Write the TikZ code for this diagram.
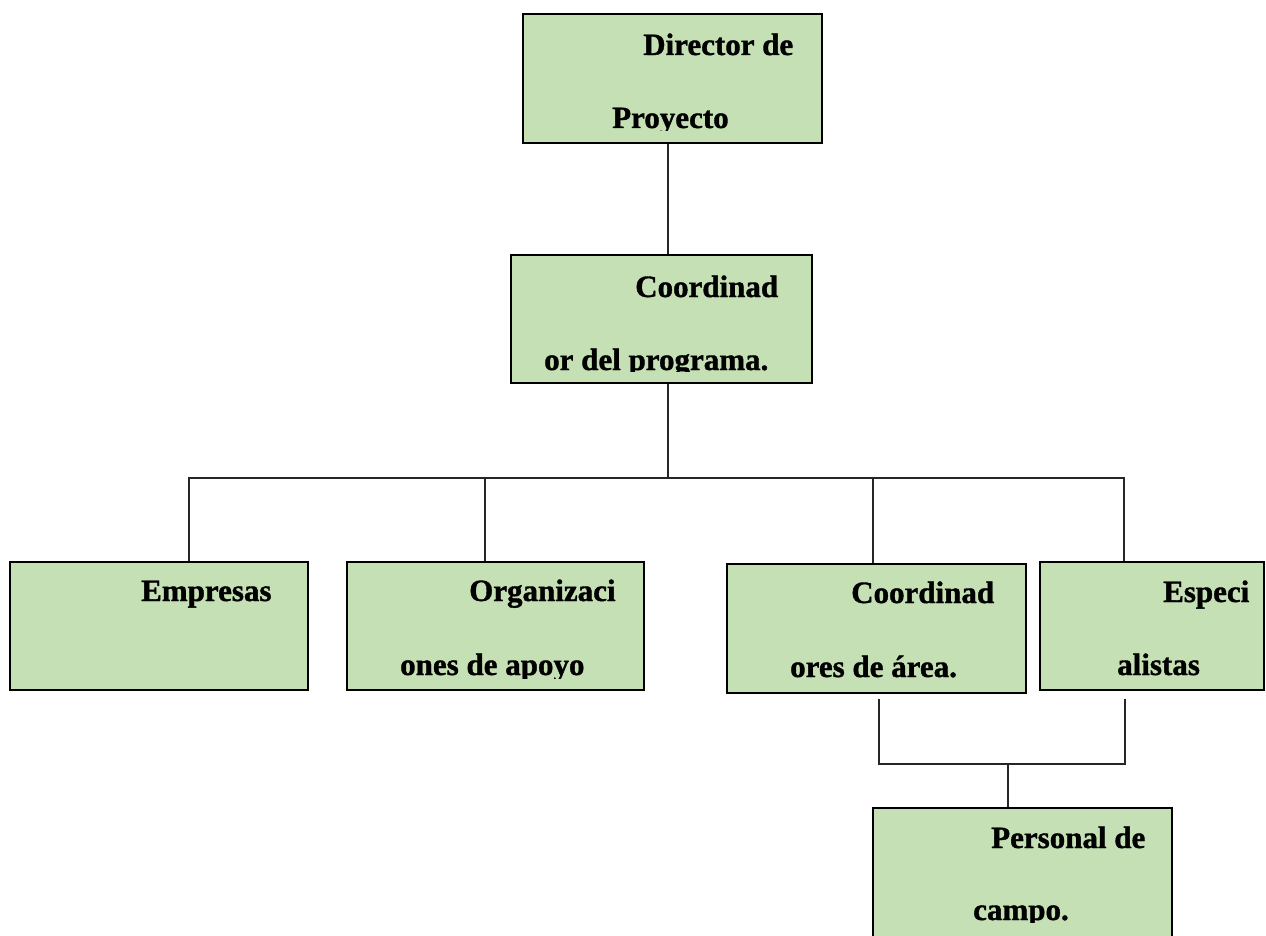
\documentclass[tikz,border=0pt]{standalone}
\usepackage{fontspec}
\setmainfont{Liberation Serif}[BoldFeatures={FakeBold=1.2}]
\definecolor{boxgreen}{HTML}{C5E0B4}

\begin{document}
\begin{tikzpicture}
    [x=1pt,y=-1pt,
     box/.style={draw, line width=2.8pt, fill=boxgreen, inner sep=0pt, minimum width=299, minimum height=128},
     txt/.style={anchor=base west, inner sep=0pt, font=\fontsize{31}{37}\selectfont\bfseries},
     link/.style={line width=1.2pt, draw=black!85}]
  \useasboundingbox (0,0) rectangle (1266,936);

  % boxes
  \node[box, minimum height=129] (dir) at (672.5,78.5) {};
  \node[box, minimum width=301] (coord) at (661.5,319) {};
  \node[box, minimum width=298] (emp) at (159,626) {};
  \node[box, minimum width=297] (org) at (495.5,626) {};
  \node[box, minimum height=129] (area) at (876.5,628.5) {};
  \node[box, minimum width=224] (esp) at (1152,626) {};
  \node[box, minimum height=130] (pers) at (1022.5,873) {};

  % texts
  \node[txt] (dir1) at (643,55) {Director de};
  \begin{scope}
    \clip (0,0) rectangle (1266,130.5);
    \node[txt] (dir2) at (612,128) {Proyecto};
  \end{scope}
  \node[txt] (coord1) at (635,297) {Coordinad};
  \begin{scope}
    \clip (0,0) rectangle (1266,371.5);
    \node[txt] (coord2) at (544,370) {or del programa.};
  \end{scope}
  \node[txt] (emp1) at (141,601) {Empresas};
  \node[txt] (org1) at (469,601) {Organizaci};
  \begin{scope}
    \clip (0,0) rectangle (1266,678);
    \node[txt] (org2) at (400,675) {ones de apoyo};
  \end{scope}
  \node[txt] (area1) at (851,603) {Coordinad};
  \node[txt] (area2) at (790,677) {ores de área.};
  \node[txt] (esp1) at (1163,602) {Especi};
  \node[txt] (esp2) at (1117,675) {alistas};
  \node[txt] (pers1) at (991,848) {Personal de};
  \begin{scope}
    \clip (0,0) rectangle (1266,922.5);
    \node[txt] (pers2) at (973,920) {campo.};
  \end{scope}

  % connectors
  \coordinate (bus) at (668,478);
  \draw[link] ([xshift=-4.5]dir.south) -- ([xshift=6.5]coord.north);
  \draw[link] ([xshift=6.5]coord.south) -- (bus);
  \foreach \to/\dx in {emp/30, org/-10.5, area/-3.5, esp/-28}
    \draw[link] (bus) -| ([xshift=\dx]\to.north);

  \coordinate (ja) at ([xshift=2.5,yshift=-5]area.south);
  \coordinate (je) at ([xshift=-27,yshift=-8]esp.south);
  \coordinate (jm) at (1008,764);
  \draw[link] (ja) |- (jm) -| (je);
  \draw[link] (jm) -- ([xshift=-14.5]pers.north);
\end{tikzpicture}
\end{document}
